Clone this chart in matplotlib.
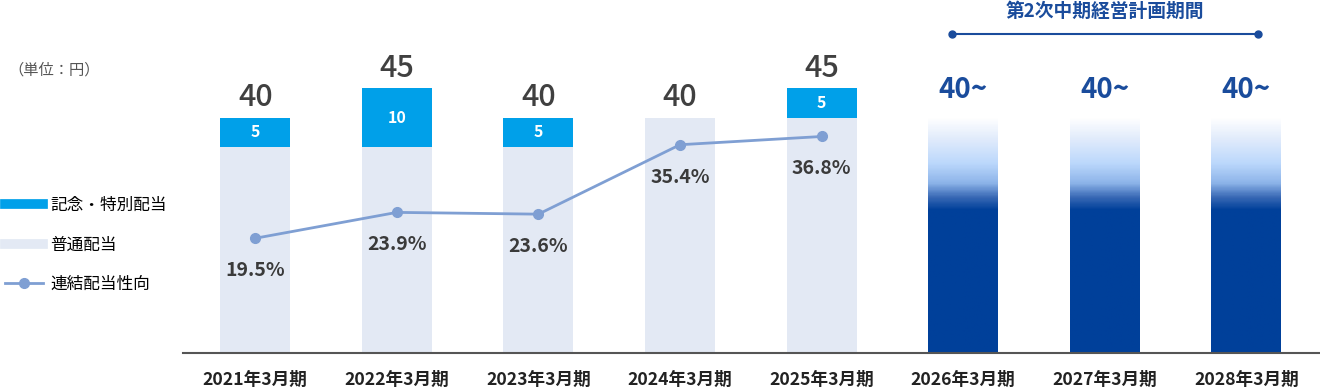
import numpy as np
import matplotlib
matplotlib.use("Agg")
import matplotlib.pyplot as plt
from matplotlib.colors import LinearSegmentedColormap
from matplotlib.lines import Line2D

plt.rcParams['font.family'] = ['Noto Sans CJK JP', 'DejaVu Sans']

# data
years = ["2021年3月期", "2022年3月期", "2023年3月期", "2024年3月期", "2025年3月期",
         "2026年3月期", "2027年3月期", "2028年3月期"]
ordinary = [35, 35, 35, 40, 40]
special = [5, 10, 5, 0, 5]
payout = [19.5, 23.9, 23.6, 35.4, 36.8]
plan = [40, 40, 40]
plan_labels = ["40~", "40~", "40~"]

c_special = "#00a0e9"
c_ordinary = "#e3e9f4"
c_line = "#7f9fd3"
c_navy = "#1a4c9c"
c_text = "#404040"

fig = plt.figure(figsize=(13.2, 3.9), dpi=100)
ax = fig.add_axes([183 / 1320, 37 / 390, 1 - 183 / 1320, 353 / 390])
ax2 = ax.twinx()

x = np.arange(len(years))
xp = x[:len(ordinary)]
xf = x[len(ordinary):]
w = 0.494

ax.bar(xp, ordinary, width=w, color=c_ordinary, zorder=1)
ax.bar(xp, special, width=w, bottom=ordinary, color=c_special, zorder=1)

for xi, o, s in zip(xp, ordinary, special):
    total = o + s
    ax.text(xi, total + 0.8, str(total), ha="center", va="bottom",
            fontsize=22, color=c_text, fontweight="medium")
    if s > 0:
        ax.text(xi, o + s / 2, str(s), ha="center", va="center",
                fontsize=11.5, color="white", fontweight="bold")

# gradient bars for plan period
stops = [(0, "#00409a"), (24.3, "#00409a"), (26.5, "#3a6ab6"), (28.9, "#8db4e9"),
         (32.3, "#bcd8fc"), (36.2, "#dfeafb"), (40, "#ffffff")]
cmap = LinearSegmentedColormap.from_list(
    "fade", [(v / 40, c) for v, c in stops])
grad = np.linspace(0, 1, 300).reshape(-1, 1)
for xi, v, lab in zip(xf, plan, plan_labels):
    ax.imshow(grad, cmap=cmap, origin="lower", aspect="auto",
              extent=[xi - w / 2, xi + w / 2, 0, v], zorder=1, interpolation="bilinear")
    ax.text(xi, v + 2.4, lab, ha="center", va="bottom", fontsize=20,
            color=c_navy, fontweight="bold")

ax.set_xlim(-0.51, len(years) - 0.48)
ax.set_ylim(0, 60)
ax2.set_ylim(0, 60)

ax2.plot(xp, payout, color=c_line, lw=2, marker="o", markersize=7, zorder=3)
for xi, p in zip(xp, payout):
    ax2.text(xi, p - 3.9, f"{p:.1f}%", ha="center", va="top", fontsize=14,
             color="#3a3a3a", fontweight="bold")

# plan period bracket
ax.plot([xf[0] - 0.08, xf[-1] + 0.08], [54.2, 54.2], color=c_navy, lw=1.5,
        marker="o", markersize=5, clip_on=False)
ax.text(xf.mean(), 56.4, "第2次中期経営計画期間", ha="center", va="bottom",
        fontsize=13.5, color=c_navy, fontweight="bold")

ax.set_xticks(x)
ax.set_xticklabels(years, fontsize=12.7, fontweight="bold", color="#222222")
ax.tick_params(axis="x", length=0, pad=13)
ax.set_yticks([])
ax2.set_yticks([])
for a in (ax, ax2):
    for side in ("top", "right", "left", "bottom"):
        a.spines[side].set_visible(False)
ax.spines["bottom"].set_visible(True)
ax.spines["bottom"].set_color("#555555")
ax.spines["bottom"].set_linewidth(1.5)

fig.text(8 / 1320, 1 - 70 / 390, "（単位：円）", fontsize=11, color="#555555",
         va="center")

handles = [Line2D([], [], color=c_special, lw=7),
           Line2D([], [], color=c_ordinary, lw=7),
           Line2D([], [], color=c_line, lw=2, marker="o", markersize=7)]
labels = ["記念・特別配当", "普通配当", "連結配当性向"]
fig.legend(handles, labels, loc="upper left", bbox_to_anchor=(0.0, 1 - 192 / 390),
           frameon=False, fontsize=12, handlelength=2.3, handletextpad=0.4,
           labelspacing=1.35, borderaxespad=0, borderpad=0.3)

fig.savefig("out.png", dpi=100)
